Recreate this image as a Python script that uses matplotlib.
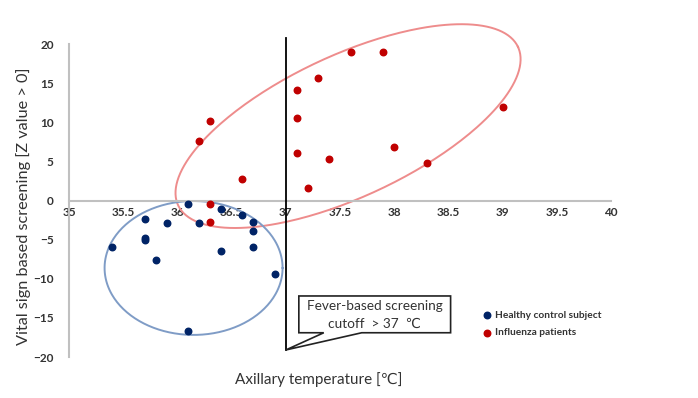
import matplotlib.pyplot as plt
import numpy as np
from matplotlib.patches import Polygon

plt.rcParams['font.family'] = ['Lato', 'DejaVu Sans']

# Healthy control subjects (axillary temp, Z value)
healthy_x = [36.1, 36.4, 36.6, 35.7, 35.9, 36.2, 36.7, 36.7, 35.7, 35.7, 35.4, 36.7, 36.4, 35.8, 36.9, 36.1]
healthy_y = [-0.5, -1.05, -1.85, -2.35, -2.85, -2.9, -2.8, -3.9, -4.8, -5.05, -5.9, -6.0, -6.5, -7.55, -9.45, -16.7]

# Influenza patients
flu_x = [37.6, 37.9, 37.3, 37.1, 37.1, 36.3, 39.0, 36.2, 38.0, 37.1, 37.4, 38.3, 36.6, 37.2, 36.3, 36.3]
flu_y = [19.0, 19.0, 15.7, 14.1, 10.5, 10.1, 12.0, 7.6, 6.9, 6.1, 5.3, 4.8, 2.75, 1.6, -0.4, -2.75]

xticks = [35, 35.5, 36, 36.5, 37, 37.5, 38, 38.5, 39, 39.5, 40]
xticklabels = ['35', '35.5', '36', '36.5', '37', '37.5', '38', '38.5', '39', '39.5', '40']
yticks = [-20, -15, -10, -5, 0, 5, 10, 15, 20]

blue = '#002366'
red = '#c00000'

fig = plt.figure(figsize=(6.98, 3.98), dpi=100)
ax = fig.add_axes([0.0989, 0.103, 0.7765, 0.7864])
ax.set_xlim(35, 40)
ax.set_ylim(-20, 20)

# axes in Excel style: x axis crossing at y=0
for s in ['top', 'right']:
    ax.spines[s].set_visible(False)
ax.spines['bottom'].set_position(('data', 0))
ax.spines['bottom'].set_color('#c0c0c0')
ax.spines['left'].set_color('#c0c0c0')
ax.spines['bottom'].set_linewidth(1.5)
ax.spines['left'].set_linewidth(1.5)
ax.set_xticks(xticks)
ax.set_xticklabels(xticklabels)
ax.set_yticks(yticks)
ax.tick_params(length=0, labelsize=8.5, labelcolor='#333333')
ax.tick_params(axis='y', pad=11)
ax.tick_params(axis='x', pad=5)
for lab in ax.get_xticklabels() + ax.get_yticklabels():
    lab.set_fontweight('bold')

# ellipses, defined in pixel-like scale then mapped to data units
sx, sy = 108.4, 7.83
t = np.linspace(0, 2 * np.pi, 300)

def ellipse(cx, cy, a, b, ang, color):
    th = np.radians(ang)
    px = a * np.cos(t) * np.cos(th) - b * np.sin(t) * np.sin(th)
    py = a * np.cos(t) * np.sin(th) + b * np.sin(t) * np.cos(th)
    ax.plot(cx + px / sx, cy + py / sy, color=color, lw=1.4, zorder=2, clip_on=False)

ellipse(37.574, 9.51, 187.5, 70.8, 25, '#ee8c8c')
ellipse(36.149, -8.62, 89, 67, 0, '#7f9cc6')

ax.scatter(healthy_x, healthy_y, s=22, color=blue, zorder=3, label='Healthy control subject')
ax.scatter(flu_x, flu_y, s=22, color=red, zorder=3, label='Influenza patients')

# fever cutoff line
ax.plot([37, 37], [-19.1, 20.8], color='black', lw=1.3, clip_on=False, zorder=4)

# callout box
call = [(37.12, -12.2), (38.52, -12.2), (38.52, -16.9), (37.70, -16.9),
        (37.0, -19.1), (37.35, -16.9), (37.12, -16.9)]
ax.add_patch(Polygon(call, closed=True, facecolor='white', edgecolor='#222222', lw=1.2, zorder=5))
ax.text(37.82, -13.5, 'Fever-based screening', ha='center', va='center', fontsize=9.8, color='#333333', zorder=6)
ax.text(37.82, -15.7, 'cutoff  > 37  ℃', ha='center', va='center', fontsize=9.8, color='#333333', zorder=6)

leg = ax.legend(loc='upper left', bbox_to_anchor=(0.762, 0.148), frameon=False, fontsize=7.3,
                handletextpad=0.3, labelspacing=0.85, handlelength=1.0, markerscale=1.0,
                borderaxespad=0, borderpad=0)
for txt in leg.get_texts():
    txt.set_color('#333333')
    txt.set_fontweight('bold')

fig.text(319 / 698, 1 - 380 / 398, 'Axillary temperature [℃]', ha='center', va='center', fontsize=11, color='#333333')
fig.text(24 / 698, 1 - 206 / 398, 'Vital sign based screening [Z value > 0]', ha='center', va='center',
         rotation=90, fontsize=11.7, color='#333333')

fig.savefig('out.png', dpi=100)
